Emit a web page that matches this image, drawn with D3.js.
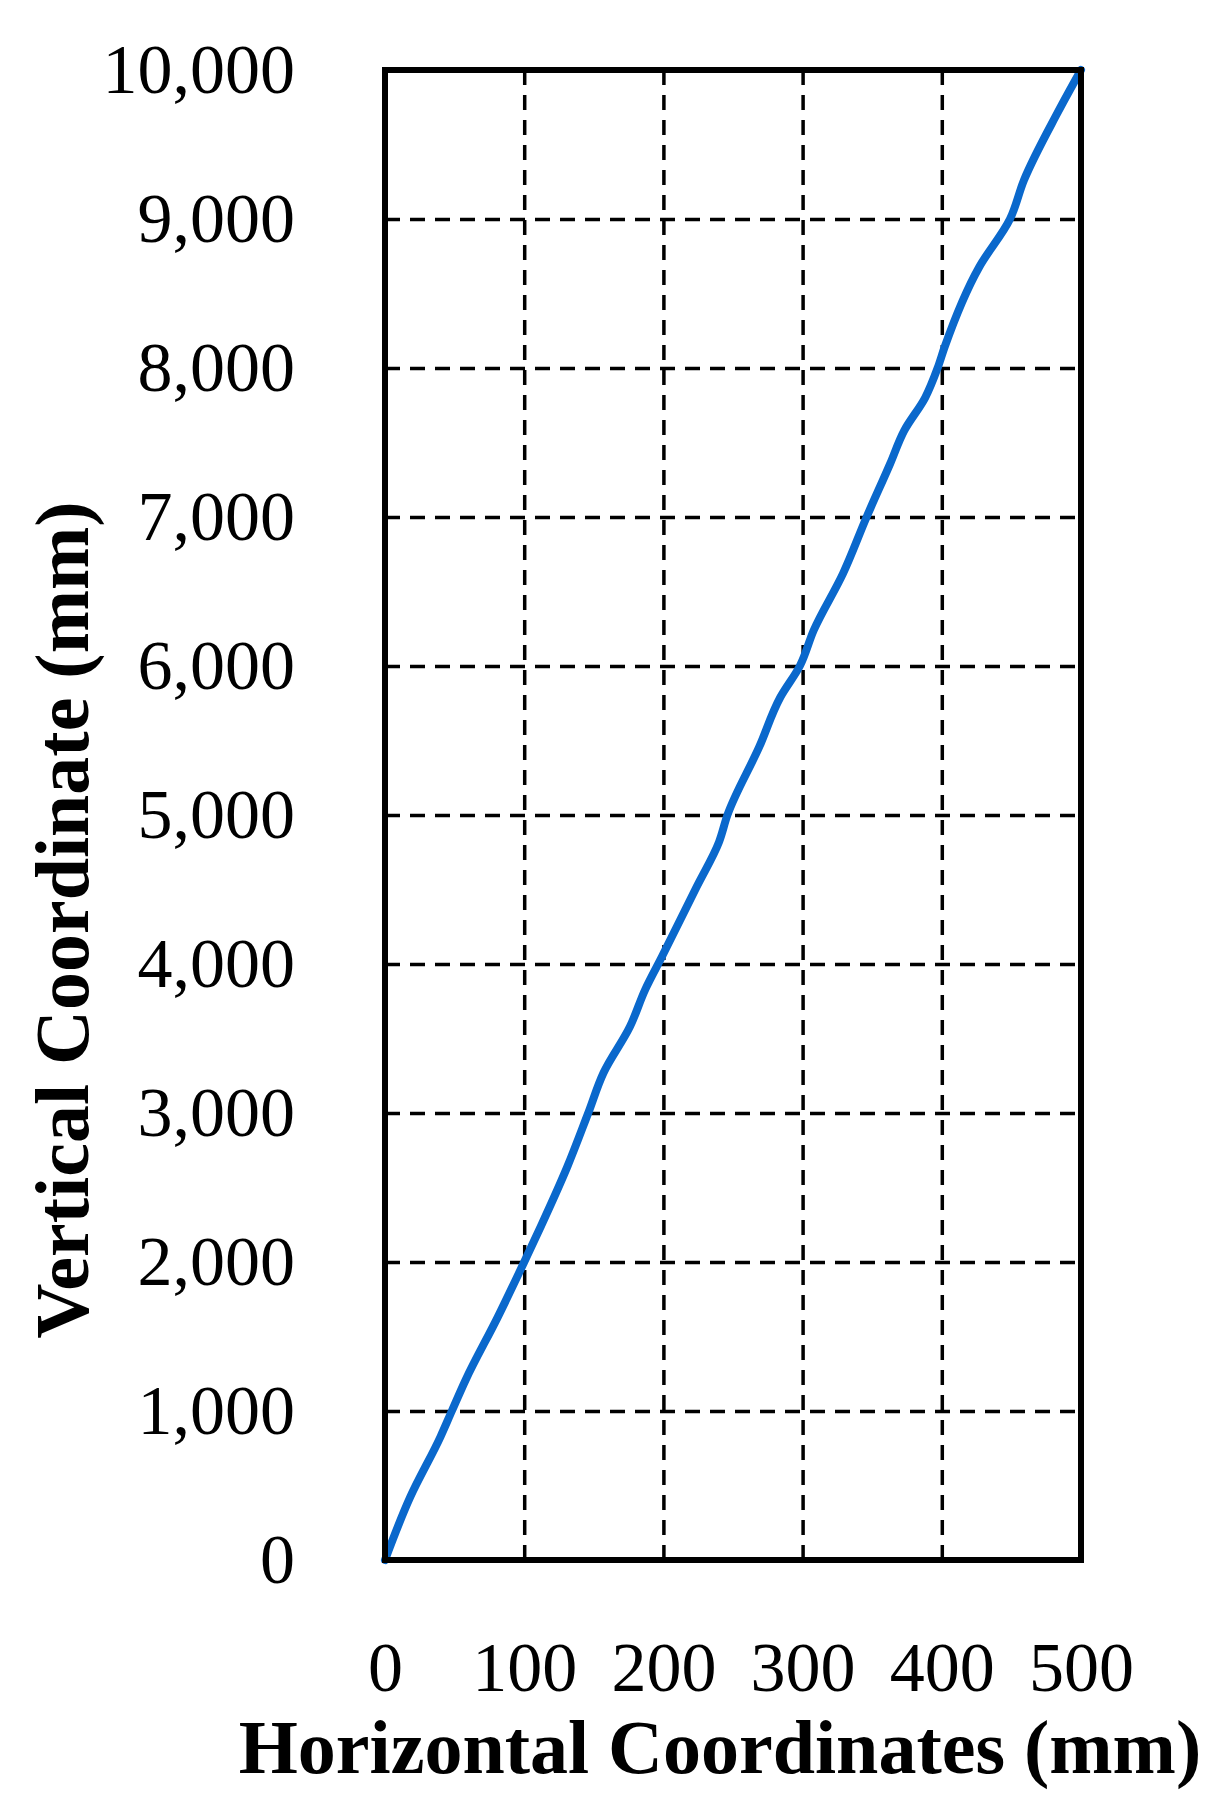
<!DOCTYPE html>
<html>
<head>
<meta charset="utf-8">
<script src="https://cdn.jsdelivr.net/npm/d3@7"></script>
<style>
  html, body { margin: 0; padding: 0; background: #ffffff; }
  svg { display: block; }
  text { font-family: "Liberation Serif", "Times New Roman", serif; fill: #000; }
</style>
</head>
<body>
<svg id="chart" width="1227" height="1814"></svg>
<script>
// ---- data ----
const horizontalMM = [0, 18, 40, 48, 58, 81, 100, 112, 131, 146, 157, 176, 187, 199, 224, 240, 246, 269, 284, 298, 308, 329, 346, 363, 373, 388, 397, 402, 427, 449, 459, 483, 500];
const verticalMM   = [0, 420, 830, 1000, 1210, 1630, 2000, 2240, 2640, 3000, 3270, 3580, 3830, 4050, 4520, 4820, 5000, 5460, 5790, 6000, 6240, 6620, 7000, 7360, 7580, 7800, 8000, 8140, 8680, 9000, 9260, 9710, 10000];
const xTicks = [0, 100, 200, 300, 400, 500];
const yTicks = [0, 1000, 2000, 3000, 4000, 5000, 6000, 7000, 8000, 9000, 10000];
const xTitle = "Horizontal Coordinates (mm)";
const yTitle = "Vertical Coordinate (mm)";

// ---- layout ----
const plot = { left: 385, right: 1081, top: 70, bottom: 1560 };
const W = plot.right - plot.left, H = plot.bottom - plot.top;

const svg = d3.select("#chart");
const g = svg.append("g").attr("transform", `translate(${plot.left},${plot.top})`);

const x = d3.scaleLinear().domain([0, 500]).range([0, W]);
const y = d3.scaleLinear().domain([0, 10000]).range([H, 0]);

// grid lines
const gridX = g.append("g").attr("transform", `translate(0,${H})`)
  .call(d3.axisBottom(x).tickValues(xTicks.slice(1, -1)).tickSize(-H).tickFormat(""));
const gridY = g.append("g")
  .call(d3.axisLeft(y).tickValues(yTicks.slice(1, -1)).tickSize(-W).tickFormat(""));
[gridX, gridY].forEach(a => {
  a.select(".domain").remove();
  a.selectAll("line").attr("stroke", "#000").attr("stroke-width", 3.5).attr("stroke-dasharray", "15,10");
});

// data line
const pts = horizontalMM.map((h, i) => [h, verticalMM[i]]);
g.append("path")
  .datum(pts)
  .attr("fill", "none")
  .attr("stroke", "#0a68cc")
  .attr("stroke-width", 8)
  .attr("stroke-linejoin", "round")
  .attr("stroke-linecap", "round")
  .attr("d", d3.line().curve(d3.curveMonotoneY).x(d => x(d[0])).y(d => y(d[1])));

// frame
g.append("rect").attr("x", 0).attr("y", 0).attr("width", W).attr("height", H)
  .attr("fill", "none").attr("stroke", "#000").attr("stroke-width", 6);

// axes labels
const xAxis = g.append("g").attr("transform", `translate(0,${H})`)
  .call(d3.axisBottom(x).tickValues(xTicks).tickSize(0).tickPadding(81).tickFormat(d3.format("d")));
const yAxis = g.append("g")
  .call(d3.axisLeft(y).tickValues(yTicks).tickSize(0).tickPadding(90).tickFormat(d3.format(",")));
[xAxis, yAxis].forEach(a => {
  a.select(".domain").remove();
  a.selectAll("text").attr("font-family", "Liberation Serif").attr("font-size", 70).attr("fill", "#000");
});

// titles
svg.append("text")
  .attr("x", 720).attr("y", 1773)
  .attr("text-anchor", "middle")
  .attr("font-size", 76).attr("font-weight", "bold")
  .text(xTitle);
svg.append("text")
  .attr("transform", "translate(88,920) rotate(-90)")
  .attr("text-anchor", "middle")
  .attr("font-size", 76).attr("font-weight", "bold")
  .text(yTitle);
</script>
</body>
</html>
